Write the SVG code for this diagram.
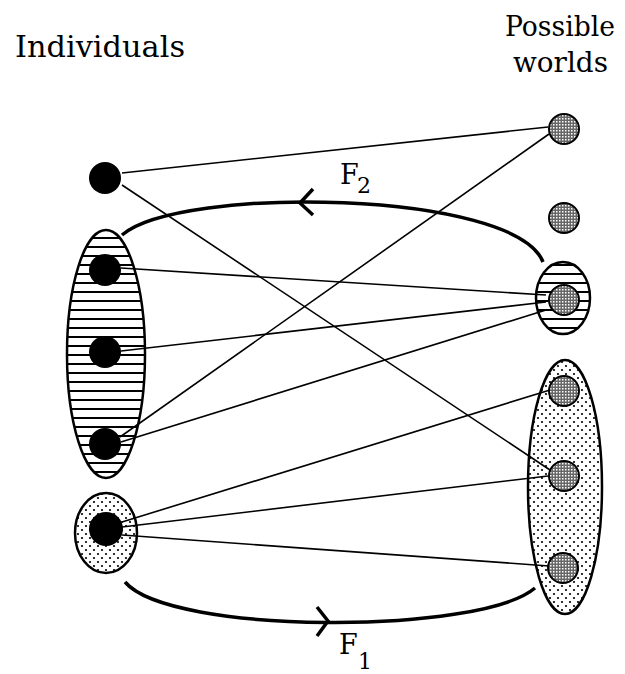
<svg xmlns="http://www.w3.org/2000/svg" width="625" height="674" viewBox="0 0 625 674">
<defs>
<pattern id="stripes" patternUnits="userSpaceOnUse" width="10" height="9">
<rect x="0" y="3" width="10" height="2" fill="#000"/>
</pattern>
<pattern id="stipple" patternUnits="userSpaceOnUse" width="8" height="8">
<circle cx="2" cy="2" r="1.1" fill="#000"/>
<circle cx="6" cy="6" r="1.1" fill="#000"/>
</pattern>
<pattern id="grey" patternUnits="userSpaceOnUse" width="3" height="3">
<rect width="3" height="3" fill="#666"/>
<rect x="1" y="1" width="1.5" height="1.5" fill="#fff"/>
</pattern>
</defs>
<style>
.lbl{font-family:"DejaVu Serif","Liberation Serif",serif;fill:#000}
.ind{fill:#000}
.world{fill:url(#grey);stroke:#000;stroke-width:2}
.grp{stroke:#000;stroke-width:2.5}
.edge{stroke:#000;stroke-width:1.6;fill:none}
.arc{stroke:#000;stroke-width:3.5;fill:none}
</style>
<rect width="625" height="674" fill="#fff"/>

<g id="labels">
<text class="lbl" x="15" y="57" font-size="29" textLength="170" lengthAdjust="spacingAndGlyphs">Individuals</text>
<text class="lbl" x="505" y="36" font-size="28" textLength="110" lengthAdjust="spacingAndGlyphs">Possible</text>
<text class="lbl" x="513" y="72" font-size="28" textLength="95" lengthAdjust="spacingAndGlyphs">worlds</text>
</g>

<g id="group-striped-individuals">
<ellipse class="grp" cx="106" cy="354" rx="39" ry="124" fill="#fff"/>
<ellipse cx="106" cy="354" rx="39" ry="124" fill="url(#stripes)"/>
</g>
<g id="group-dotted-individual">
<ellipse class="grp" cx="106" cy="533" rx="31" ry="40" fill="url(#stipple)"/>
</g>
<g id="group-striped-world">
<ellipse class="grp" cx="563" cy="298" rx="27" ry="36" fill="#fff"/>
<ellipse cx="563" cy="298" rx="27" ry="36" fill="url(#stripes)"/>
</g>
<g id="group-dotted-worlds">
<ellipse class="grp" cx="565" cy="487" rx="37" ry="127" fill="url(#stipple)"/>
</g>

<g id="connectors">
<line class="edge" x1="122" y1="173" x2="548" y2="127"/>
<line class="edge" x1="122" y1="185" x2="550" y2="470"/>
<line class="edge" x1="549" y1="134" x2="120" y2="437"/>
<line class="edge" x1="121" y1="268" x2="546" y2="295"/>
<line class="edge" x1="121" y1="351" x2="546" y2="302"/>
<line class="edge" x1="121" y1="442" x2="546" y2="310"/>
<line class="edge" x1="122" y1="522" x2="550" y2="390"/>
<line class="edge" x1="122" y1="527" x2="548" y2="476"/>
<line class="edge" x1="122" y1="535" x2="549" y2="566"/>
<path class="arc" d="M 543 262 C 515 190, 180 185, 122 235"/>
<path class="arc" d="M 313 189 L 300 203 L 313 215"/>
<path class="arc" d="M 125 582 C 170 635, 480 635, 535 588"/>
<path class="arc" d="M 317 607 L 328 621 L 317 636"/>
</g>

<g id="arc-labels">
<text class="lbl" x="340" y="184" font-size="27">F</text>
<text class="lbl" x="357" y="193" font-size="22">2</text>
<text class="lbl" x="339" y="654" font-size="27">F</text>
<text class="lbl" x="358" y="669" font-size="22">1</text>
</g>

<g id="ind-top"><circle class="ind" cx="105" cy="178" r="16"/></g>
<g id="ind-s1"><circle class="ind" cx="105" cy="270" r="16"/></g>
<g id="ind-s2"><circle class="ind" cx="105" cy="352" r="16"/></g>
<g id="ind-s3"><circle class="ind" cx="105" cy="444" r="16"/></g>
<g id="ind-d1"><circle class="ind" cx="106" cy="529" r="17"/></g>

<g id="world-1"><circle class="world" cx="564" cy="129" r="15"/></g>
<g id="world-2"><circle class="world" cx="564" cy="218" r="15"/></g>
<g id="world-3"><circle class="world" cx="564" cy="300" r="15"/></g>
<g id="world-4"><circle class="world" cx="564" cy="391" r="15"/></g>
<g id="world-5"><circle class="world" cx="564" cy="476" r="15"/></g>
<g id="world-6"><circle class="world" cx="563" cy="568" r="15"/></g>
</svg>
